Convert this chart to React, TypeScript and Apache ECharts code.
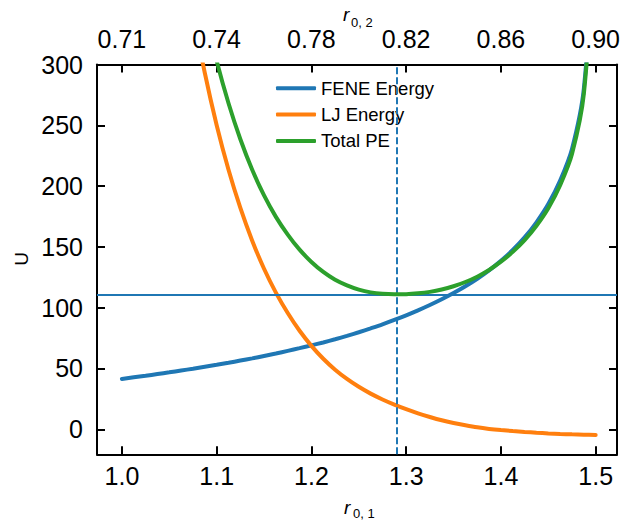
import React, { useEffect, useRef } from "react";
import * as echarts from "echarts";

const rValues = [
  1.0, 1.0125, 1.025, 1.0375, 1.05, 1.0625, 1.075, 1.0875, 1.1, 1.1125,
  1.125, 1.1375, 1.15, 1.1625, 1.175, 1.1875, 1.2, 1.2125, 1.225, 1.2375,
  1.25, 1.2625, 1.275, 1.2875, 1.3, 1.3125, 1.325, 1.3375, 1.35, 1.3625,
  1.375, 1.3875, 1.4, 1.4125, 1.425, 1.4375, 1.45, 1.4625, 1.475, 1.4875, 1.5,
];
const feneEnergy = [
  41.4, 42.7, 44.0, 45.4, 46.8, 48.3, 49.8, 51.4, 53.0, 54.7,
  56.5, 58.3, 60.3, 62.3, 64.5, 66.7, 69.0, 71.4, 74.0, 76.8,
  79.8, 83.0, 86.3, 89.9, 93.7, 97.8, 102.2, 106.9, 112.0, 117.6,
  123.8, 130.7, 138.5, 147.4, 157.8, 170.2, 185.2, 204.5, 230.5, 280.0, 420.0,
];
const ljEnergy = [
  896, 762, 649, 553, 472, 402, 343, 293, 250, 213.4,
  182, 155.1, 132, 112.4, 95.6, 81.0, 68.6, 58.0, 49.0, 41.4,
  34.9, 29.3, 24.5, 20.3, 16.5, 13.1, 10.1, 7.4, 5.2, 3.3,
  1.6, 0.3, -0.7, -1.5, -2.2, -2.85, -3.4, -3.85, -4.2, -4.45, -4.7,
];
const totalPE = [
  937, 805, 693, 598, 519, 450, 393, 344, 303, 268.1,
  238.5, 213.4, 192.3, 174.7, 160.1, 147.7, 137.6, 129.4, 123.0, 118.4,
  114.9, 112.6, 111.4, 111.0, 111.1, 111.8, 113.0, 114.9, 117.6, 121.1,
  125.5, 131.0, 137.8, 145.9, 155.6, 167.4, 181.8, 200.7, 226.3, 275.6, 415,
];

const bottomTicks = [1.0, 1.1, 1.2, 1.3, 1.4, 1.5];
const topTickLabels = ["0.71", "0.74", "0.78", "0.82", "0.86", "0.90"];
const yTicks = [0, 50, 100, 150, 200, 250, 300];
const minPE = 111;
const minR = 1.294;

const FONT = "Liberation Sans";
const BLUE = "#1f77b4";
const ORANGE = "#ff7f0e";
const GREEN = "#2ca02c";

export default function App() {
  const ref = useRef<HTMLDivElement>(null);
  useEffect(() => {
    if (!ref.current) return;
    const chart = echarts.init(ref.current, null, { renderer: "svg" });
    const pairs = (vals: number[]) => rValues.map((r, i) => [r, vals[i]]);
    const axisLine = { show: true, onZero: false, lineStyle: { color: "#000", width: 2 } };
    const tick = (vals: number[]) => ({ show: true, inside: true, length: 8, lineStyle: { color: "#000", width: 2 }, customValues: vals });
    const xMin = 0.9737;
    const xMax = 1.5225;
    const yMin = -20.6;
    const yMax = 300;
    const lineSeries = (name: string, vals: number[], color: string, z: number) => ({
      name,
      type: "line",
      data: pairs(vals),
      showSymbol: false,
      smooth: 0.3,
      lineStyle: { color, width: 4, cap: "round" },
      itemStyle: { color },
      z,
    });
    const fene: any = lineSeries("FENE Energy", feneEnergy, BLUE, 3);
    fene.markLine = {
      silent: true,
      symbol: "none",
      label: { show: false },
      data: [
        { yAxis: minPE, lineStyle: { color: BLUE, width: 2, type: "solid" } },
        { xAxis: minR, lineStyle: { color: BLUE, width: 2, type: [7, 3] } },
      ],
    };
    chart.setOption({
      animation: false,
      grid: { left: 97, right: 7, top: 64.5, bottom: 521 - 454.3 },
      legend: {
        orient: "vertical",
        left: 276,
        top: 78.3,
        padding: 0,
        itemWidth: 40,
        itemHeight: 4,
        itemGap: 6.3,
        icon: "roundRect",
        textStyle: { fontFamily: FONT, fontSize: 18.5, color: "#000", lineHeight: 20 },
        data: ["FENE Energy", "LJ Energy", "Total PE"],
      },
      xAxis: [
        {
          type: "value",
          min: xMin,
          max: xMax,
          position: "bottom",
          axisLine,
          axisTick: tick(bottomTicks),
          splitLine: { show: false },
          axisLabel: {
            customValues: bottomTicks,
            formatter: (v: number) => v.toFixed(1),
            fontFamily: FONT,
            fontSize: 25,
            color: "#000",
            margin: 9,
          },
        },
        {
          type: "value",
          min: xMin,
          max: xMax,
          position: "top",
          axisLine,
          axisTick: tick(bottomTicks),
          splitLine: { show: false },
          axisLabel: {
            customValues: bottomTicks,
            formatter: (v: number) => {
              const i = bottomTicks.findIndex((t) => Math.abs(t - v) < 1e-6);
              return i >= 0 ? topTickLabels[i] : "";
            },
            fontFamily: FONT,
            fontSize: 25,
            color: "#000",
            margin: 13,
          },
        },
      ],
      yAxis: [
        {
          type: "value",
          min: yMin,
          max: yMax,
          position: "left",
          axisLine,
          axisTick: tick(yTicks),
          splitLine: { show: false },
          axisLabel: {
            customValues: yTicks,
            fontFamily: FONT,
            fontSize: 25,
            color: "#000",
            margin: 14,
          },
        },
        {
          type: "value",
          min: yMin,
          max: yMax,
          position: "right",
          axisLine,
          axisTick: tick(yTicks),
          splitLine: { show: false },
          axisLabel: { show: false },
        },
      ],
      series: [
        fene,
        lineSeries("LJ Energy", ljEnergy, ORANGE, 4),
        lineSeries("Total PE", totalPE, GREEN, 5),
      ],
      graphic: [
        { type: "text", x: 21, y: 259, rotation: Math.PI / 2, style: { text: "U", fontFamily: FONT, fontSize: 19, fill: "#000", align: "center", verticalAlign: "middle" } },
        { type: "text", x: 344, y: 507.5, style: { text: "r", fontFamily: FONT, fontStyle: "italic", fontSize: 19, fill: "#000", align: "left", verticalAlign: "middle" } },
        { type: "text", x: 353, y: 513.5, style: { text: "0, 1", fontFamily: FONT, fontSize: 13, fill: "#000", align: "left", verticalAlign: "middle" } },
        { type: "text", x: 343, y: 14, style: { text: "r", fontFamily: FONT, fontStyle: "italic", fontSize: 19, fill: "#000", align: "left", verticalAlign: "middle" } },
        { type: "text", x: 351, y: 22.5, style: { text: "0, 2", fontFamily: FONT, fontSize: 13, fill: "#000", align: "left", verticalAlign: "middle" } },
      ],
    });
    return () => chart.dispose();
  }, []);
  return <div ref={ref} style={{ width: 624, height: 521, position: "absolute", left: 0, top: 0 }} />;
}
